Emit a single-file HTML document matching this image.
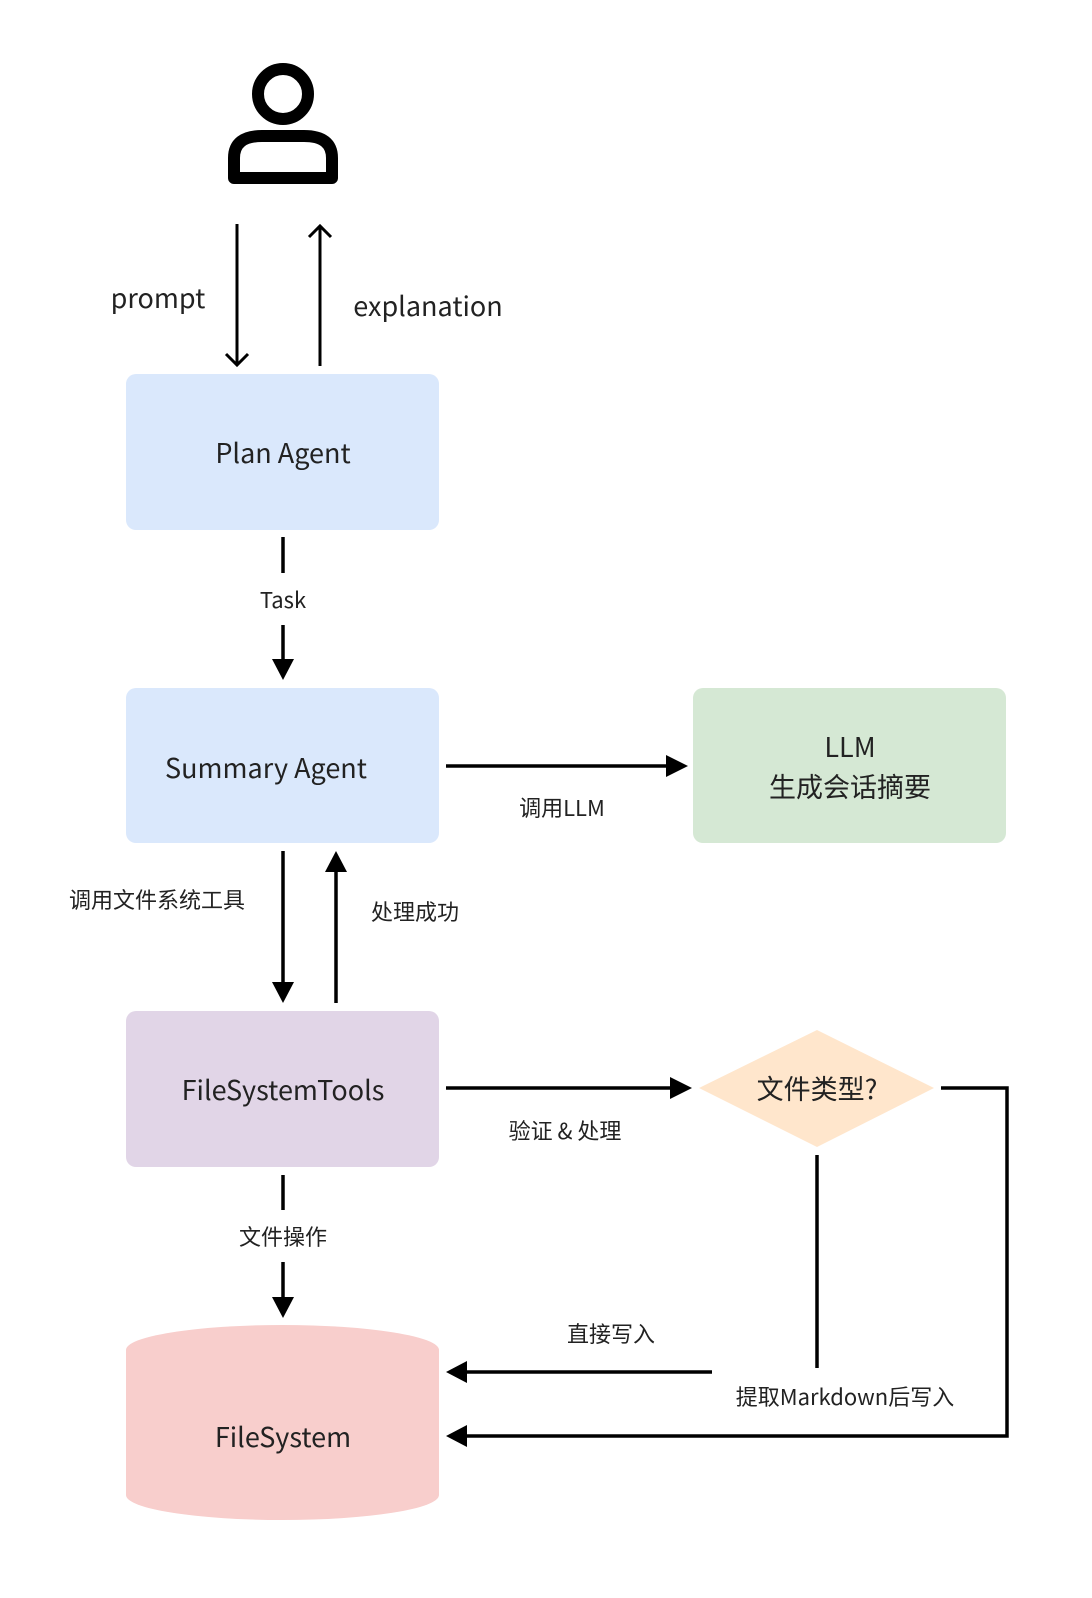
<!DOCTYPE html>
<html><head><meta charset="utf-8"><style>
html,body{margin:0;padding:0;background:#fff}
svg{display:block}
text{font-family:"Liberation Sans","Noto Sans CJK SC",sans-serif;fill:#222}
.cn{font-family:"Noto Sans CJK SC","Liberation Sans",sans-serif}
</style></head><body>
<svg width="1092" height="1598" viewBox="0 0 1092 1598" xmlns="http://www.w3.org/2000/svg">
<defs>
<marker id="fa" viewBox="0 0 10 10" refX="9" refY="5" markerWidth="7" markerHeight="7" markerUnits="userSpaceOnUse" orient="auto"></marker>
</defs>
<!-- person -->
<circle cx="283" cy="94" r="25" fill="none" stroke="#000" stroke-width="12"/>
<path d="M234 178 V158 Q234 136 262 136 H304 Q332 136 332 158 V178 Z" fill="none" stroke="#000" stroke-width="12" stroke-linejoin="round"/>
<!-- prompt / explanation -->
<g stroke="#000" stroke-width="3" fill="none">
<line x1="237" y1="224" x2="237" y2="365"/>
<polyline points="226,354 237,365 248,354"/>
<line x1="320" y1="366" x2="320" y2="226"/>
<polyline points="309,237 320,226 331,237"/>
</g>
<text class="cn" x="158" y="308" font-size="27" text-anchor="middle">prompt</text>
<text class="cn" x="428" y="316" font-size="27" text-anchor="middle">explanation</text>
<!-- Plan Agent -->
<rect x="126" y="374" width="313" height="156" rx="10" fill="#dae8fc"/>
<text class="cn" x="283" y="463" font-size="27" text-anchor="middle">Plan Agent</text>
<!-- Task -->
<g stroke="#000" stroke-width="3.5">
<line x1="283" y1="537" x2="283" y2="573"/>
<line x1="283" y1="625" x2="283" y2="662"/>
</g>
<polygon points="272,659 294,659 283,680" fill="#000"/>
<text class="cn" x="283" y="608" font-size="22" text-anchor="middle">Task</text>
<!-- Summary Agent -->
<rect x="126" y="688" width="313" height="155" rx="10" fill="#dae8fc"/>
<text class="cn" x="266" y="778" font-size="27" text-anchor="middle">Summary Agent</text>
<!-- LLM -->
<rect x="693" y="688" width="313" height="155" rx="10" fill="#d5e8d4"/>
<text class="cn" x="850" y="757" font-size="27" text-anchor="middle">LLM</text>
<text class="cn" x="850" y="797" font-size="27" text-anchor="middle">生成会话摘要</text>
<line x1="446" y1="766" x2="668" y2="766" stroke="#000" stroke-width="3.5"/>
<polygon points="666,755 688,766 666,777" fill="#000"/>
<text class="cn" x="562" y="816" font-size="22" text-anchor="middle">调用LLM</text>
<!-- Summary <-> FST -->
<line x1="283" y1="851" x2="283" y2="985" stroke="#000" stroke-width="3.5"/>
<polygon points="272,982 294,982 283,1003" fill="#000"/>
<line x1="336" y1="1003" x2="336" y2="870" stroke="#000" stroke-width="3.5"/>
<polygon points="325,872 347,872 336,851" fill="#000"/>
<text class="cn" x="157" y="908" font-size="22" text-anchor="middle">调用文件系统工具</text>
<text class="cn" x="415" y="920" font-size="22" text-anchor="middle">处理成功</text>
<!-- FileSystemTools -->
<rect x="126" y="1011" width="313" height="156" rx="10" fill="#e1d5e7"/>
<text class="cn" x="283" y="1100" font-size="27" text-anchor="middle">FileSystemTools</text>
<line x1="446" y1="1088" x2="672" y2="1088" stroke="#000" stroke-width="3.5"/>
<polygon points="670,1077 692,1088 670,1099" fill="#000"/>
<text class="cn" x="565" y="1139" font-size="22" text-anchor="middle">验证 &amp; 处理</text>
<!-- diamond -->
<polygon points="817,1030 934,1088 817,1147 699,1088" fill="#ffe6cc"/>
<text class="cn" x="817" y="1099" font-size="27" text-anchor="middle">文件类型?</text>
<polyline points="941,1088 1007,1088 1007,1436 466,1436" fill="none" stroke="#000" stroke-width="3.5"/>
<polygon points="467,1425 446,1436 467,1447" fill="#000"/>
<line x1="817" y1="1155" x2="817" y2="1368" stroke="#000" stroke-width="3.5"/>
<line x1="712" y1="1372" x2="466" y2="1372" stroke="#000" stroke-width="3.5"/>
<polygon points="467,1361 446,1372 467,1383" fill="#000"/>
<text class="cn" x="611" y="1342" font-size="22" text-anchor="middle">直接写入</text>
<text class="cn" x="845" y="1405" font-size="22" text-anchor="middle">提取Markdown后写入</text>
<!-- file ops -->
<line x1="283" y1="1175" x2="283" y2="1210" stroke="#000" stroke-width="3.5"/>
<line x1="283" y1="1262" x2="283" y2="1300" stroke="#000" stroke-width="3.5"/>
<polygon points="272,1297 294,1297 283,1318" fill="#000"/>
<text class="cn" x="283" y="1245" font-size="22" text-anchor="middle">文件操作</text>
<!-- cylinder -->
<path d="M126 1350 A156.5 25 0 0 1 439 1350 V1495 A156.5 25 0 0 1 126 1495 Z" fill="#f8cecc"/>
<text class="cn" x="283" y="1447" font-size="27" text-anchor="middle">FileSystem</text>
</svg>
</body></html>
